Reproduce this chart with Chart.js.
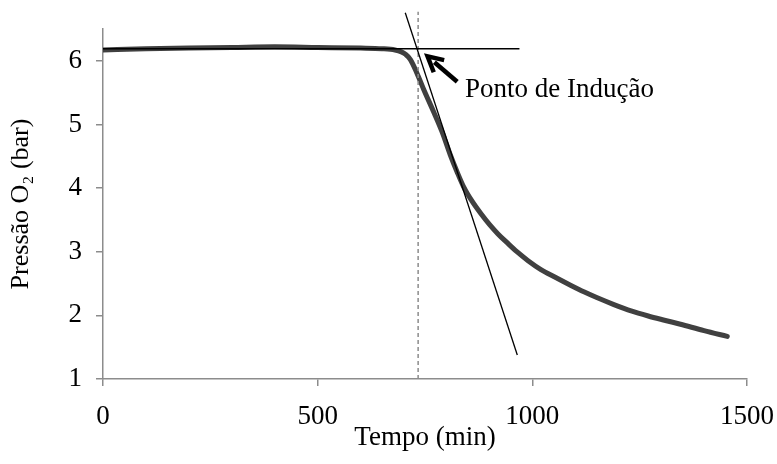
<!DOCTYPE html>
<html>
<head>
<meta charset="utf-8">
<script src="https://cdn.jsdelivr.net/npm/chart.js@4"></script>
<style>
  html, body { margin: 0; padding: 0; background: #fff; }
  #wrap { width: 777px; height: 464px; }
</style>
</head>
<body>
<div id="wrap"><canvas id="pressureChart"></canvas></div>
<script>
// Data
var timeMin = [0, 100, 200, 300, 400, 500, 600, 650, 680, 695, 705, 716, 731, 747, 770, 790, 809, 825, 840, 860, 880, 900, 920, 940, 964, 990, 1020, 1050, 1090, 1120, 1150, 1190, 1230, 1270, 1310, 1345, 1400, 1454];
var pressure = [6.17, 6.19, 6.20, 6.21, 6.22, 6.21, 6.20, 6.19, 6.17, 6.14, 6.10, 6.02, 5.81, 5.55, 5.20, 4.88, 4.52, 4.25, 4.02, 3.79, 3.60, 3.43, 3.28, 3.15, 3.00, 2.86, 2.72, 2.61, 2.47, 2.37, 2.28, 2.17, 2.07, 1.99, 1.92, 1.86, 1.76, 1.67];

var baselineX = [0, 970];
var baselineY = [6.19, 6.19];
var tangentX = [704, 965];
var tangentY = [6.755, 1.377];
var inductionX = [734, 734];
var inductionY = [1, 6.77];

var xTicks = [0, 500, 1000, 1500];
var yTicks = [1, 2, 3, 4, 5, 6];

var arrowTail = { x: 825, y: 5.67 };
var arrowTip = { x: 756, y: 6.07 };
var annotationText = 'Ponto de Indução';
var annotationPos = { x: 843, y: 5.43 };

function toPoints(xs, ys) {
    return xs.map(function (x, i) { return { x: x, y: ys[i] }; });
}

var FONT = 'Liberation Serif';

// draws the arrow and the label, placed through the chart scales
var annotationPlugin = {
    id: 'induction',
    afterDatasetsDraw: function (chart) {
        var ctx = chart.ctx;
        var xs = chart.scales.x, ys = chart.scales.y;
        var tx = xs.getPixelForValue(arrowTip.x), ty = ys.getPixelForValue(arrowTip.y);
        var sx = xs.getPixelForValue(arrowTail.x), sy = ys.getPixelForValue(arrowTail.y);
        var ang = Math.atan2(ty - sy, tx - sx);
        var headLen = 15, headW = 8;

        ctx.save();
        ctx.strokeStyle = '#000';
        ctx.fillStyle = '#000';
        ctx.lineWidth = 4.5;
        ctx.beginPath();
        ctx.moveTo(sx, sy);
        ctx.lineTo(tx - Math.cos(ang) * headLen * 0.6, ty - Math.sin(ang) * headLen * 0.6);
        ctx.stroke();

        ctx.lineJoin = 'miter';
        ctx.beginPath();
        ctx.moveTo(tx - Math.cos(ang) * headLen + Math.cos(ang + Math.PI / 2) * headW,
                   ty - Math.sin(ang) * headLen + Math.sin(ang + Math.PI / 2) * headW);
        ctx.lineTo(tx, ty);
        ctx.lineTo(tx - Math.cos(ang) * headLen - Math.cos(ang + Math.PI / 2) * headW,
                   ty - Math.sin(ang) * headLen - Math.sin(ang + Math.PI / 2) * headW);
        ctx.stroke();

        ctx.font = '27px "' + FONT + '"';
        ctx.textBaseline = 'alphabetic';
        ctx.textAlign = 'left';
        ctx.fillText(annotationText, xs.getPixelForValue(annotationPos.x), ys.getPixelForValue(annotationPos.y));
        ctx.restore();
    }
};

var ctx = document.getElementById('pressureChart').getContext('2d');
var chart = new Chart(ctx, {
    type: 'line',
    data: {
        datasets: [{
            data: toPoints(baselineX, baselineY),
            borderColor: '#000',
            borderWidth: 1.3,
            pointRadius: 0
        }, {
            data: toPoints(tangentX, tangentY),
            borderColor: '#000',
            borderWidth: 1.3,
            pointRadius: 0,
            clip: false
        }, {
            data: toPoints(inductionX, inductionY),
            borderColor: '#8c8c8c',
            borderWidth: 1.5,
            borderDash: [4, 3],
            pointRadius: 0,
            clip: false
        }, {
            data: toPoints(timeMin, pressure),
            borderColor: '#404040',
            borderWidth: 5,
            borderCapStyle: 'round',
            pointRadius: 0,
            cubicInterpolationMode: 'monotone'
        }]
    },
    options: {
        responsive: true,
        maintainAspectRatio: false,
        animation: false,
        layout: { padding: { top: 29, right: 30, left: 0, bottom: 0 } },
        plugins: {
            legend: { display: false },
            tooltip: { enabled: false }
        },
        scales: {
            x: {
                type: 'linear',
                min: 0,
                max: 1500,
                afterBuildTicks: function (scale) {
                    scale.ticks = xTicks.map(function (v) { return { value: v }; });
                },
                afterFit: function (scale) {
                    scale.height = 85;
                    scale.paddingLeft = 0;
                    scale.paddingRight = 0;
                },
                ticks: {
                    font: { family: FONT, size: 27 },
                    color: '#000',
                    padding: 15,
                    maxRotation: 0,
                    callback: function (v) { return String(v); }
                },
                grid: { drawOnChartArea: false, tickLength: 7, color: '#8c8c8c', lineWidth: 1.5 },
                border: { color: '#8c8c8c', width: 1.5 },
                title: {
                    display: true,
                    text: 'Tempo (min)',
                    font: { family: FONT, size: 27 },
                    color: '#000',
                    padding: { top: 0, bottom: 10 }
                }
            },
            y: {
                min: 1,
                max: 6.5,
                afterBuildTicks: function (scale) {
                    scale.ticks = yTicks.map(function (v) { return { value: v }; });
                },
                afterFit: function (scale) {
                    scale.width = 103;
                    scale.paddingTop = 0;
                    scale.paddingBottom = 0;
                },
                ticks: {
                    font: { family: FONT, size: 27 },
                    color: '#000',
                    padding: 14
                },
                grid: { drawOnChartArea: false, tickLength: 7, color: '#8c8c8c', lineWidth: 1.5 },
                border: { color: '#8c8c8c', width: 1.5 },
                title: {
                    display: true,
                    text: 'Pressão O\u2082 (bar)',
                    font: { family: FONT, size: 26 },
                    color: '#000',
                    padding: { top: 6, bottom: 0 }
                }
            }
        }
    },
    plugins: [annotationPlugin]
});
</script>
</body>
</html>
